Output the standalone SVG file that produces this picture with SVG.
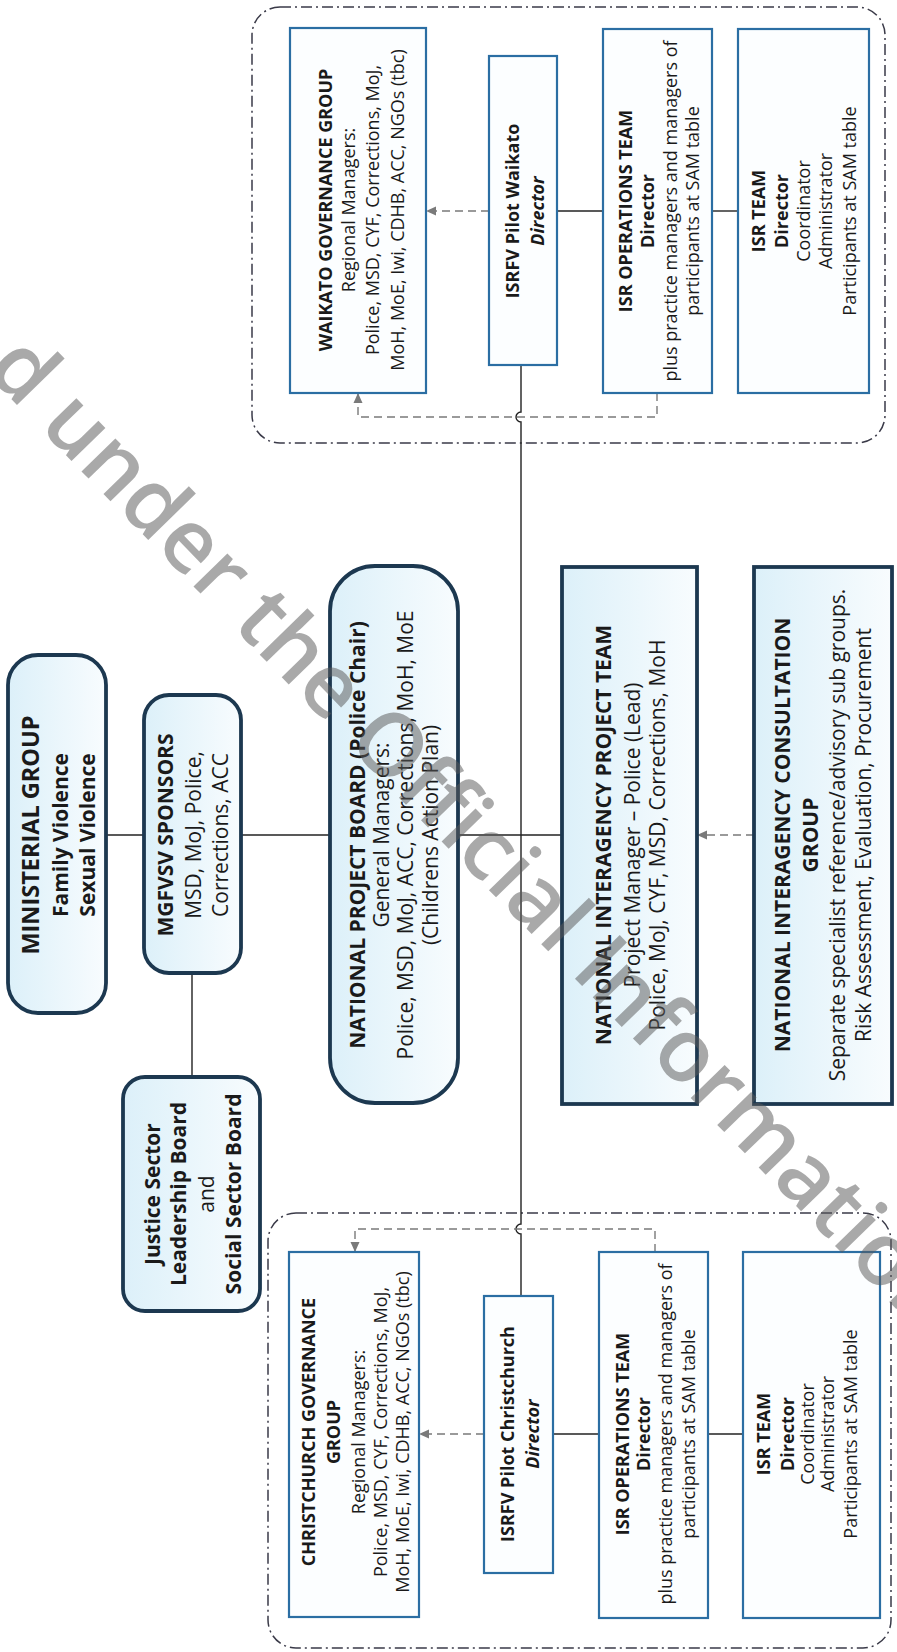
<svg xmlns="http://www.w3.org/2000/svg" width="897" height="1652" viewBox="0 0 897 1652">
<style>
text{font-family:"Open Sans","Liberation Sans",sans-serif;fill:#1a1a1a;text-anchor:middle;dominant-baseline:central}
.b{font-weight:bold}
.i{font-style:italic}
.s{font-size:18px}
.m{font-size:21px}
.h{font-size:23.5px;font-weight:bold}
.heavy{fill:url(#gf);stroke:#1c3850;stroke-width:3.8}
.thin{fill:#fcfeff;stroke:#2b6ea3;stroke-width:2.2}
.cont{fill:none;stroke:#3a3a48;stroke-width:1.5;stroke-dasharray:11 4 2 4}
.sol{fill:none;stroke:#222;stroke-width:1.4}
.dsh{fill:none;stroke:#7a7a7a;stroke-width:1.4;stroke-dasharray:8 5}
.wm{font-family:"Open Sans","Liberation Sans",sans-serif;font-size:87.5px;font-weight:600;fill:#5a5a5a;fill-opacity:0.52;text-anchor:start;dominant-baseline:alphabetic}
</style>
<defs>
<linearGradient id="gf" x1="0" y1="0" x2="1" y2="0">
<stop offset="0" stop-color="#dcf0f9"/>
<stop offset="1" stop-color="#f8fcfe"/>
</linearGradient>
<marker id="arr" markerWidth="10" markerHeight="10" refX="9" refY="5" orient="auto" markerUnits="userSpaceOnUse">
<path d="M0,0.5 L10,5 L0,9.5 Z" fill="#7a7a7a"/>
</marker>
</defs>
<rect width="897" height="1652" fill="#ffffff"/>

<g id="containers">
<rect id="waikato-region" class="cont" x="252" y="7" width="633" height="436" rx="28"/>
<rect id="christchurch-region" class="cont" x="268" y="1213" width="623" height="435" rx="28"/>
</g>

<g id="connectors">
<path class="sol" d="M106,835 H144"/>
<path class="sol" d="M241,835 H330"/>
<path class="sol" d="M192,973 V1077"/>
<path class="sol" d="M458,835 H562"/>
<path class="sol" d="M521,365 V412 A5,5 0 0 0 521,422 V1224 A5,5 0 0 0 521,1234 V1296"/>
<path class="sol" d="M557,211 H603"/>
<path class="sol" d="M712,211 H738"/>
<path class="sol" d="M553,1434 H599"/>
<path class="sol" d="M708,1434 H743"/>
<path class="dsh" d="M489,211 H427" marker-end="url(#arr)"/>
<path class="dsh" d="M657,393 V417 H358 V394" marker-end="url(#arr)"/>
<path class="dsh" d="M754,835 H698" marker-end="url(#arr)"/>
<path class="dsh" d="M484,1434 H420" marker-end="url(#arr)"/>
<path class="dsh" d="M655,1252 V1229 H355 V1251" marker-end="url(#arr)"/>
</g>

<g id="ministerial-group">
<rect class="heavy" x="8" y="655" width="98" height="358" rx="30"/>
<g transform="translate(57,835) rotate(-90)">
<text class="h" x="0" y="-27">MINISTERIAL GROUP</text>
<text class="m b" x="0" y="3">Family Violence</text>
<text class="m b" x="0" y="30">Sexual Violence</text>
</g>
</g>

<g id="mgfvsv-sponsors">
<rect class="heavy" x="144" y="695" width="97" height="278" rx="25"/>
<g transform="translate(192,835) rotate(-90)">
<text class="m b" x="0" y="-27">MGFVSV SPONSORS</text>
<text class="m" x="0" y="1">MSD, MoJ, Police,</text>
<text class="m" x="0" y="28">Corrections, ACC</text>
</g>
</g>

<g id="justice-social-board">
<rect class="heavy" x="123" y="1077" width="137" height="234" rx="22"/>
<g transform="translate(192,1194) rotate(-90)">
<text class="m b" x="0" y="-40">Justice Sector</text>
<text class="m b" x="0" y="-14">Leadership Board</text>
<text class="m" x="0" y="14">and</text>
<text class="m b" x="0" y="41">Social Sector Board</text>
</g>
</g>

<g id="national-project-board">
<rect class="heavy" x="330" y="566" width="128" height="537" rx="45"/>
<g transform="translate(394,835) rotate(-90)">
<text class="m b" x="0" y="-37">NATIONAL PROJECT BOARD (Police Chair)</text>
<text class="m" x="0" y="-13">General Managers:</text>
<text class="m" x="0" y="11">Police, MSD, MoJ, ACC, Corrections, MoH, MoE</text>
<text class="m" x="0" y="36">(Childrens Action Plan)</text>
</g>
</g>

<g id="national-interagency-project-team">
<rect class="heavy" x="562" y="567" width="135" height="537"/>
<g transform="translate(630,835) rotate(-90)">
<text class="m b" x="0" y="-27">NATIONAL INTERAGENCY PROJECT TEAM</text>
<text class="m" x="0" y="2">Project Manager – Police (Lead)</text>
<text class="m" x="0" y="27">Police, MoJ, CYF, MSD, Corrections, MoH</text>
</g>
</g>

<g id="national-interagency-consultation-group">
<rect class="heavy" x="754" y="567" width="138" height="537"/>
<g transform="translate(823,835) rotate(-90)">
<text class="m b" x="0" y="-41">NATIONAL INTERAGENCY CONSULTATION</text>
<text class="m b" x="0" y="-13">GROUP</text>
<text class="m" x="0" y="14">Separate specialist reference/advisory sub groups.</text>
<text class="m" x="0" y="40">Risk Assessment, Evaluation, Procurement</text>
</g>
</g>

<g id="waikato-governance-group">
<rect class="thin" x="290" y="28" width="136" height="365"/>
<g transform="translate(358,210) rotate(-90)">
<text class="s b" x="0" y="-33">WAIKATO GOVERNANCE GROUP</text>
<text class="s" x="0" y="-10">Regional Managers:</text>
<text class="s" x="0" y="14">Police, MSD, CYF, Corrections, MoJ,</text>
<text class="s" x="0" y="39">MoH, MoE, Iwi, CDHB, ACC, NGOs (tbc)</text>
</g>
</g>

<g id="isrfv-pilot-waikato">
<rect class="thin" x="489" y="56" width="68" height="309"/>
<g transform="translate(523,211) rotate(-90)">
<text class="s b" x="0" y="-11">ISRFV Pilot Waikato</text>
<text class="s b i" x="0" y="14">Director</text>
</g>
</g>

<g id="isr-operations-team-waikato">
<rect class="thin" x="603" y="29" width="109" height="364"/>
<g transform="translate(657,211) rotate(-90)">
<text class="s b" x="0" y="-32">ISR OPERATIONS TEAM</text>
<text class="s b" x="0" y="-10">Director</text>
<text class="s" x="0" y="13">plus practice managers and managers of</text>
<text class="s" x="0" y="35">participants at SAM table</text>
</g>
</g>

<g id="isr-team-waikato">
<rect class="thin" x="738" y="29" width="131" height="364"/>
<g transform="translate(803,211) rotate(-90)">
<text class="s b" x="0" y="-45">ISR TEAM</text>
<text class="s b" x="0" y="-22">Director</text>
<text class="s" x="0" y="0">Coordinator</text>
<text class="s" x="0" y="22">Administrator</text>
<text class="s" x="0" y="46">Participants at SAM table</text>
</g>
</g>

<g id="christchurch-governance-group">
<rect class="thin" x="289" y="1252" width="130" height="365"/>
<g transform="translate(355,1432) rotate(-90)">
<text class="s b" x="0" y="-47">CHRISTCHURCH GOVERNANCE</text>
<text class="s b" x="0" y="-22">GROUP</text>
<text class="s" x="0" y="3">Regional Managers:</text>
<text class="s" x="0" y="25">Police, MSD, CYF, Corrections, MoJ,</text>
<text class="s" x="0" y="47">MoH, MoE, Iwi, CDHB, ACC, NGOs (tbc)</text>
</g>
</g>

<g id="isrfv-pilot-christchurch">
<rect class="thin" x="484" y="1296" width="69" height="277"/>
<g transform="translate(519,1434) rotate(-90)">
<text class="s b" x="0" y="-12">ISRFV Pilot Christchurch</text>
<text class="s b i" x="0" y="13">Director</text>
</g>
</g>

<g id="isr-operations-team-christchurch">
<rect class="thin" x="599" y="1252" width="109" height="366"/>
<g transform="translate(654,1434) rotate(-90)">
<text class="s b" x="0" y="-32">ISR OPERATIONS TEAM</text>
<text class="s b" x="0" y="-11">Director</text>
<text class="s" x="0" y="11">plus practice managers and managers of</text>
<text class="s" x="0" y="34">participants at SAM table</text>
</g>
</g>

<g id="isr-team-christchurch">
<rect class="thin" x="743" y="1252" width="137" height="366"/>
<g transform="translate(808,1434) rotate(-90)">
<text class="s b" x="0" y="-45">ISR TEAM</text>
<text class="s b" x="0" y="-21">Director</text>
<text class="s" x="0" y="-1">Coordinator</text>
<text class="s" x="0" y="19">Administrator</text>
<text class="s" x="0" y="42">Participants at SAM table</text>
</g>
</g>

<g id="watermark">
<text class="wm" transform="translate(-16,371) rotate(45.8)">d under the Official Information</text>
</g>
</svg>
